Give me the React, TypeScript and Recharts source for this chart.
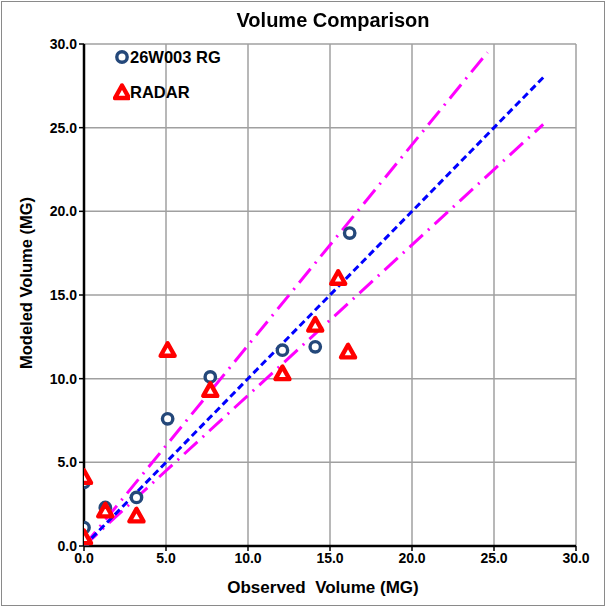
import React from 'react';
import { ScatterChart, Scatter, XAxis, YAxis, CartesianGrid } from 'recharts';

const rgX = [0, 0, 0, 1.3, 3.2, 5.1, 7.7, 12.1, 14.1, 16.2];
const rgY = [3.8, 1.1, 0.3, 2.3, 2.9, 7.6, 10.1, 11.7, 11.9, 18.7];
const radarX = [0, 0, 1.3, 3.2, 5.1, 7.7, 12.1, 14.1, 15.5, 16.1];
const radarY = [4.1, 0.5, 2.1, 1.8, 11.7, 9.3, 10.3, 13.2, 16.0, 11.6];
const oneToOne = [{ x: 0, y: 0 }, { x: 28, y: 28 }];
const upperBound = [{ x: 0, y: 0 }, { x: 24.6, y: 29.5 }];
const lowerBound = [{ x: 0, y: 0 }, { x: 28, y: 25.2 }];
const ticks = [0, 5, 10, 15, 20, 25, 30];
const seriesNames = ['26W003 RG', 'RADAR'];

const rgData = rgX.map((x, i) => ({ x, y: rgY[i] }));
const radarData = radarX.map((x, i) => ({ x, y: radarY[i] }));

const FONT = '"Liberation Sans", Arial, sans-serif';
const NAVY = '#24487A';

const CircleShape = (p: any) => (
  <circle cx={p.cx} cy={p.cy} r={5.2} fill="#fff" stroke={NAVY} strokeWidth={3.4} />
);
const TriShape = (p: any) => (
  <polygon
    points={`${p.cx},${p.cy - 7} ${p.cx - 7},${p.cy + 5.5} ${p.cx + 7},${p.cy + 5.5}`}
    fill="#fff"
    stroke="#FF0000"
    strokeWidth={4.4}
    strokeLinejoin="round"
  />
);
const NoShape = () => <g />;

const fmt = (v: number) => v.toFixed(1);

export default function App() {
  return (
    <div style={{ position: 'fixed', left: 0, top: 0, width: 610, height: 609, background: '#fff' }}>
      <div
        style={{
          position: 'absolute', left: 1, top: 1, width: 604, height: 605,
          border: '1px solid #8a8a8a', boxSizing: 'border-box',
        }}
      />
      <ScatterChart width={610} height={609} margin={{ top: 44, right: 34, bottom: 33, left: 24 }}>
        <CartesianGrid stroke="#a0a0a0" strokeWidth={1.5} horizontal vertical />
        <XAxis
          type="number"
          dataKey="x"
          domain={[0, 30]}
          ticks={ticks}
          tickFormatter={fmt}
          height={30}
          axisLine={{ stroke: '#000', strokeWidth: 2.5 }}
          tickLine={{ stroke: '#000', strokeWidth: 1.5 }}
          tickSize={5}
          tick={{ fill: '#000', fontFamily: FONT, fontSize: 14, fontWeight: 'bold' }}
          allowDataOverflow
        />
        <YAxis
          type="number"
          dataKey="y"
          domain={[0, 30]}
          ticks={ticks}
          tickFormatter={fmt}
          width={60}
          axisLine={{ stroke: '#000', strokeWidth: 2.5 }}
          tickLine={{ stroke: '#000', strokeWidth: 1.5 }}
          tickSize={5}
          tick={{ fill: '#000', fontFamily: FONT, fontSize: 14, fontWeight: 'bold' }}
          allowDataOverflow
        />
        <Scatter
          data={upperBound}
          line={{ stroke: '#FF00FF', strokeWidth: 3, strokeDasharray: '18 7 2 7' }}
          shape={NoShape}
          legendType="none"
          isAnimationActive={false}
        />
        <Scatter
          data={lowerBound}
          line={{ stroke: '#FF00FF', strokeWidth: 3, strokeDasharray: '18 7 2 7' }}
          shape={NoShape}
          legendType="none"
          isAnimationActive={false}
        />
        <Scatter
          data={oneToOne}
          line={{ stroke: '#0000FF', strokeWidth: 3, strokeDasharray: '7 4' }}
          shape={NoShape}
          legendType="none"
          isAnimationActive={false}
        />
        <Scatter name={seriesNames[0]} data={rgData} shape={CircleShape} isAnimationActive={false} />
        <Scatter name={seriesNames[1]} data={radarData} shape={TriShape} isAnimationActive={false} />
      </ScatterChart>
      <div
        style={{
          position: 'absolute', left: 113, top: 46, fontFamily: FONT, fontWeight: 'bold', fontSize: 16.5, color: '#000',
        }}
      >
        <div style={{ display: 'flex', alignItems: 'center', height: 22 }}>
          <svg width={17} height={18}>
            <circle cx={9} cy={9} r={5.2} fill="#fff" stroke={NAVY} strokeWidth={3.4} />
          </svg>
          <span>{seriesNames[0]}</span>
        </div>
        <div style={{ display: 'flex', alignItems: 'center', height: 22, marginTop: 13 }}>
          <svg width={17} height={18}>
            <polygon points="9,2.5 2,15 16,15" fill="#fff" stroke="#FF0000" strokeWidth={4.4} strokeLinejoin="round" />
          </svg>
          <span>{seriesNames[1]}</span>
        </div>
      </div>
      <div
        style={{
          position: 'absolute', left: 33, top: 9, width: 600, textAlign: 'center',
          fontFamily: FONT, fontWeight: 'bold', fontSize: 20, color: '#000',
        }}
      >
        Volume Comparison
      </div>
      <div
        style={{
          position: 'absolute', left: 73, top: 578, width: 500, textAlign: 'center',
          fontFamily: FONT, fontWeight: 'bold', fontSize: 17, color: '#000', whiteSpace: 'pre',
        }}
      >
        {'Observed  Volume (MG)'}
      </div>
      <div style={{ position: 'absolute', left: 26, top: 283, width: 0, height: 0 }}>
        <div
          style={{
            position: 'absolute', left: -150, top: -10, width: 300, textAlign: 'center',
            transform: 'rotate(-90deg)', fontFamily: FONT, fontWeight: 'bold', fontSize: 16.5, color: '#000',
            lineHeight: '20px',
          }}
        >
          Modeled Volume (MG)
        </div>
      </div>
    </div>
  );
}
